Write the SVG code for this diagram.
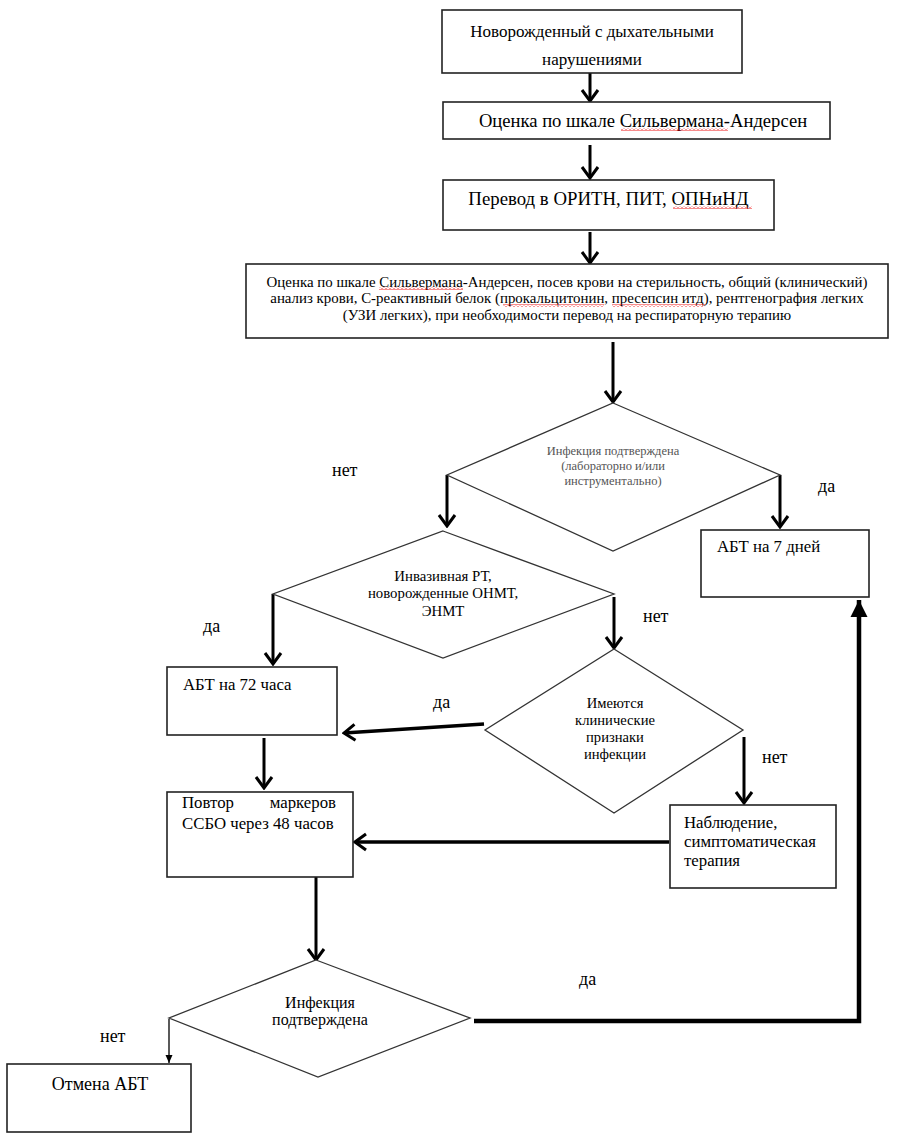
<svg xmlns="http://www.w3.org/2000/svg" width="899" height="1141" viewBox="0 0 899 1141">
<defs>
<style>
.box{fill:#fff;stroke:#222;stroke-width:1.6}
.dia{fill:#fff;stroke:#333;stroke-width:1.3}
.t{font-family:"Liberation Serif","Times New Roman",serif;fill:#000}
.g{fill:#555}
.c{text-anchor:middle}
.lbl{font-family:"Liberation Serif","Times New Roman",serif;font-size:18px;fill:#000}
.ar{stroke:#000;stroke-width:3;fill:none}
.arw{stroke:#000;stroke-width:3.6;fill:none}
.ar4{stroke:#000;stroke-width:4.5;fill:none}
.thin{stroke:#000;stroke-width:1.3;fill:none}
</style>
<marker id="chev" markerUnits="userSpaceOnUse" viewBox="-16 -12 18 24" refX="0" refY="0" markerWidth="18" markerHeight="24" orient="auto">
<path d="M-11,-8 L0,0 L-11,8" fill="none" stroke="#000" stroke-width="3"/>
</marker>
<marker id="tri" markerUnits="userSpaceOnUse" viewBox="-18 -10 20 20" refX="0" refY="0" markerWidth="20" markerHeight="20" orient="auto">
<path d="M-17,-8.5 L0,0 L-17,8.5 Z" fill="#000"/>
</marker>
<marker id="small" markerUnits="userSpaceOnUse" viewBox="-9 -5 10 10" refX="0" refY="0" markerWidth="10" markerHeight="10" orient="auto">
<path d="M-8,-3.5 L0,0 L-8,3.5 Z" fill="#000"/>
</marker>
<pattern id="sq" width="4" height="3" patternUnits="userSpaceOnUse">
<path d="M0,2.5 L2,0.5 L4,2.5" stroke="#e00" fill="none" stroke-width="0.9"/>
</pattern>
</defs>
<rect width="899" height="1141" fill="#fff"/>

<g id="connectors">
<line class="ar" x1="590" y1="73" x2="590" y2="101" marker-end="url(#chev)"/>
<line class="ar" x1="590" y1="145" x2="590" y2="178" marker-end="url(#chev)"/>
<line class="ar" x1="590" y1="232" x2="590" y2="263" marker-end="url(#chev)"/>
<line class="ar" x1="613" y1="342" x2="613" y2="402" marker-end="url(#chev)"/>
<line class="ar" x1="447" y1="475" x2="447" y2="526" marker-end="url(#chev)"/>
<line class="ar" x1="780" y1="475" x2="780" y2="527" marker-end="url(#chev)"/>
<line class="ar" x1="273" y1="594" x2="273" y2="664" marker-end="url(#chev)"/>
<line class="ar" x1="614" y1="597" x2="614" y2="648" marker-end="url(#chev)"/>
<line class="arw" x1="484" y1="724" x2="344" y2="733" marker-end="url(#chev)"/>
<line class="ar" x1="264" y1="738" x2="264" y2="788" marker-end="url(#chev)"/>
<line class="ar" x1="744" y1="737" x2="744" y2="803" marker-end="url(#chev)"/>
<line class="arw" x1="669" y1="842" x2="355" y2="842" marker-end="url(#chev)"/>
<line class="ar" x1="316" y1="877" x2="316" y2="960" marker-end="url(#chev)"/>
<polyline class="ar4" points="474,1021 859,1021 859,600" marker-end="url(#tri)"/>
<polyline class="thin" points="169,1019 169,1063" marker-end="url(#small)"/>
</g>

<g id="n1">
<rect class="box" x="442" y="10" width="300" height="63"/>
<text class="t c" x="592" y="37" font-size="17">Новорожденный с дыхательными</text>
<text class="t c" x="592" y="65" font-size="17">нарушениями</text>
</g>

<g id="n2">
<rect class="box" x="443" y="102" width="387" height="37"/>
<text class="t c" x="643" y="127" font-size="18.6">Оценка по шкале Сильвермана-Андерсен</text>
<rect x="621" y="128" width="107" height="3" fill="url(#sq)"/>
</g>

<g id="n3">
<rect class="box" x="443" y="180" width="331" height="50"/>
<text class="t c" x="608.5" y="205" font-size="18.8">Перевод в ОРИТН, ПИТ, ОПНиНД</text>
<rect x="673" y="206" width="79" height="3" fill="url(#sq)"/>
</g>

<g id="n4">
<rect class="box" x="246" y="264" width="642" height="74"/>
<text class="t c" x="567" y="287" font-size="14.9">Оценка по шкале Сильвермана-Андерсен, посев крови на стерильность, общий (клинический)</text>
<text class="t c" x="567" y="303" font-size="14.9">анализ крови, С-реактивный белок (прокальцитонин, пресепсин итд), рентгенография легких</text>
<text class="t c" x="567" y="320" font-size="14.9">(УЗИ легких), при необходимости перевод на респираторную терапию</text>
<rect x="379" y="287" width="84" height="3" fill="url(#sq)"/>
<rect x="503" y="304" width="101" height="3" fill="url(#sq)"/>
<rect x="612" y="304" width="93" height="3" fill="url(#sq)"/>
</g>

<g id="d1">
<polygon class="dia" points="613,403 780,475 613,551 447,475"/>
<text class="t g c" x="613" y="455" font-size="12.5">Инфекция подтверждена</text>
<text class="t g c" x="613" y="470" font-size="12.5">(лабораторно и/или</text>
<text class="t g c" x="613" y="485" font-size="12.5">инструментально)</text>
</g>

<g id="n5">
<rect class="box" x="701" y="530" width="168" height="67"/>
<text class="t" x="717" y="552" font-size="16.8">АБТ на 7 дней</text>
</g>

<g id="d2">
<polygon class="dia" points="443,531 614,594 443,658 273,594"/>
<text class="t c" x="443" y="581" font-size="14.8">Инвазивная РТ,</text>
<text class="t c" x="443" y="598" font-size="14.8">новорожденные ОНМТ,</text>
<text class="t c" x="443" y="616" font-size="14.8">ЭНМТ</text>
</g>

<g id="n6">
<rect class="box" x="167" y="667" width="170" height="68"/>
<text class="t" x="183" y="690" font-size="16.8">АБТ на 72 часа</text>
</g>

<g id="d3">
<polygon class="dia" points="614,649 743,730 614,813 485,730"/>
<text class="t c" x="615" y="708" font-size="14.6">Имеются</text>
<text class="t c" x="615" y="725" font-size="14.6">клинические</text>
<text class="t c" x="615" y="742" font-size="14.6">признаки</text>
<text class="t c" x="615" y="759" font-size="14.6">инфекции</text>
</g>

<g id="n7">
<rect class="box" x="167" y="792" width="186" height="85"/>
<text class="t" x="182" y="808" font-size="16.8">Повтор</text>
<text class="t" x="336" y="808" font-size="16.8" text-anchor="end">маркеров</text>
<text class="t" x="182" y="829" font-size="16.8">ССБО через 48 часов</text>
</g>

<g id="n8">
<rect class="box" x="670" y="805" width="166" height="83"/>
<text class="t" x="684" y="828" font-size="16.8">Наблюдение,</text>
<text class="t" x="684" y="847" font-size="16.8">симптоматическая</text>
<text class="t" x="684" y="866" font-size="16.8">терапия</text>
</g>

<g id="d4">
<polygon class="dia" points="316,960 470,1018 318,1077 169,1018"/>
<text class="t c" x="320" y="1008" font-size="16">Инфекция</text>
<text class="t c" x="320" y="1025" font-size="16">подтверждена</text>
</g>

<g id="n9">
<rect class="box" x="7" y="1064" width="184" height="68"/>
<text class="t c" x="100" y="1090" font-size="18">Отмена АБТ</text>
</g>

<g id="labels">
<text class="lbl" x="332" y="476">нет</text>
<text class="lbl" x="818" y="492">да</text>
<text class="lbl" x="203" y="632">да</text>
<text class="lbl" x="643" y="622">нет</text>
<text class="lbl" x="433" y="708">да</text>
<text class="lbl" x="762" y="763">нет</text>
<text class="lbl" x="579" y="985">да</text>
<text class="lbl" x="100" y="1042">нет</text>
</g>
</svg>
